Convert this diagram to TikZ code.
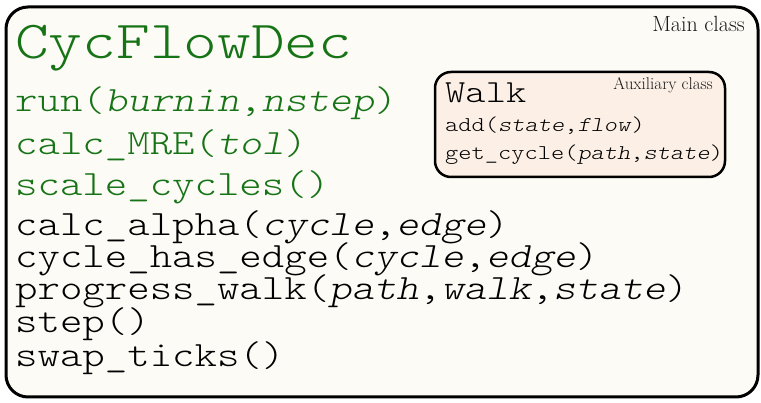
\documentclass[tikz,border=0pt]{standalone}
\usepackage{fontspec}
\setmonofont{lmmonolt10-regular}[Extension=.otf, ItalicFont=lmmonolt10-oblique, FakeStretch=1.2]
\usepackage{xcolor}
\usepackage{tikz}
\usetikzlibrary{positioning}
\definecolor{classgreen}{RGB}{22,115,22}
\definecolor{mainfill}{RGB}{252,251,245}
\definecolor{auxfill}{RGB}{252,239,230}

\begin{document}
\begin{tikzpicture}[
    x=1pt, y=-1pt,
    classbox/.style={rectangle, draw, line width=3pt, rounded corners=22pt, fill=#1, inner sep=0pt},
    title/.style={anchor=base west, inner sep=0pt, font=\fontsize{#1}{#1}\ttfamily},
    method/.style={anchor=base west, inner sep=0pt, font=\fontsize{35.6}{40}\ttfamily},
    auxmethod/.style={anchor=base west, inner sep=0pt, font=\fontsize{21}{24}\ttfamily},
    tag/.style={anchor=base east, inner sep=0pt, font=\fontsize{#1}{#1}\selectfont, text=black!90}
]
\useasboundingbox (0,0) rectangle (761,403);

% Main class
\node[classbox=mainfill, minimum width=752pt, minimum height=390pt] (main) at (382,202) {};
\node[tag=22] (maintag) at (745,32) {Main class};
\node[title=53.5, text=classgreen] (cfd) at (15,59) {CycFlowDec};

% Public methods
\node[method, text=classgreen] (run) at (15,112) {run(\textit{burnin},\textit{nstep})};
\node[method, text=classgreen] (mre) at (15,155) {calc\_MRE(\textit{tol})};
\node[method, text=classgreen] (scale) at (15,196) {scale\_cycles()};

% Internal methods
\node[method] (alpha) at (15,236) {calc\_alpha(\textit{cycle},\textit{edge})};
\node[method] (hasedge) at (15,268) {cycle\_has\_edge(\textit{cycle},\textit{edge})};
\node[method] (progress) at (15,300) {progress\_walk(\textit{path},\textit{walk},\textit{state})};
\node[method] (stp) at (15,333) {step()};
\node[method] (swap) at (15,367) {swap\_ticks()};

% Auxiliary class
\node[classbox=auxfill, line width=2.5pt, rounded corners=16pt, minimum width=290pt, minimum height=105pt] (walkbox) at (580,124.5) {};
\node[tag=17] (auxtag) at (713,90) {Auxiliary class};
\node[title=32.2] (walk) at (445,103) {Walk};
\node[auxmethod] (add) at (445,132) {add(\textit{state},\textit{flow})};
\node[auxmethod] (getcycle) at (445,160) {get\_cycle(\textit{path},\textit{state})};

\end{tikzpicture}
\end{document}
